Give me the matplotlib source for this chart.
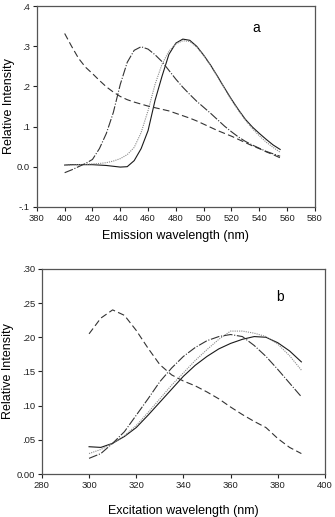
import matplotlib
matplotlib.use("Agg")
import matplotlib.pyplot as plt
from matplotlib.ticker import FixedLocator, FixedFormatter

plt.rcParams['font.family'] = ['Liberation Sans', 'DejaVu Sans']

# ---- Panel a: emission spectra ----
em_x = [400, 405, 410, 415, 420, 425, 430, 435, 440, 445, 450, 455, 460, 465, 470,
        475, 480, 485, 490, 495, 500, 505, 510, 515, 520, 525, 530, 535, 540, 545, 550, 555]
em_solid = [0.004, 0.005, 0.005, 0.005, 0.005, 0.004, 0.003, 0.001, -0.001, 0.0, 0.015,
            0.045, 0.09, 0.165, 0.225, 0.28, 0.308, 0.318, 0.315, 0.300, 0.278, 0.253,
            0.225, 0.196, 0.168, 0.142, 0.118, 0.099, 0.083, 0.068, 0.054, 0.043]
em_dotted = [0.003, 0.004, 0.005, 0.006, 0.007, 0.008, 0.010, 0.014, 0.020, 0.030, 0.048,
             0.085, 0.14, 0.205, 0.255, 0.288, 0.306, 0.314, 0.312, 0.298, 0.277, 0.252,
             0.224, 0.195, 0.166, 0.140, 0.116, 0.095, 0.077, 0.061, 0.048, 0.036]
em_dashdot = [-0.015, -0.008, 0.0, 0.008, 0.018, 0.045, 0.083, 0.135, 0.205, 0.26, 0.29,
              0.299, 0.293, 0.279, 0.262, 0.24, 0.218, 0.198, 0.18, 0.163, 0.148, 0.133,
              0.117, 0.101, 0.087, 0.074, 0.063, 0.054, 0.046, 0.038, 0.032, 0.026]
em_dashed = [0.332, 0.30, 0.27, 0.248, 0.232, 0.215, 0.199, 0.186, 0.175, 0.167, 0.161,
             0.156, 0.151, 0.147, 0.143, 0.139, 0.133, 0.127, 0.121, 0.114, 0.106, 0.098,
             0.09, 0.083, 0.076, 0.068, 0.06, 0.052, 0.045, 0.037, 0.03, 0.022]

a_xticks = [380, 400, 420, 440, 460, 480, 500, 520, 540, 560, 580]
a_yticks = [-0.1, 0.0, 0.1, 0.2, 0.3, 0.4]
a_ylabels = ['-.1', '0.0', '.1', '.2', '.3', '.4']

# ---- Panel b: excitation spectra ----
ex_x = [300, 305, 310, 315, 320, 325, 330, 335, 340, 345, 350, 355, 360, 365, 370,
        375, 380, 385, 390]
ex_solid = [0.040, 0.039, 0.045, 0.055, 0.068, 0.086, 0.105, 0.124, 0.143, 0.159, 0.172,
            0.183, 0.191, 0.197, 0.201, 0.200, 0.192, 0.180, 0.164]
ex_dotted = [0.030, 0.036, 0.045, 0.056, 0.071, 0.090, 0.110, 0.130, 0.148, 0.166, 0.182,
             0.197, 0.209, 0.209, 0.206, 0.201, 0.190, 0.173, 0.152]
ex_dashdot = [0.023, 0.030, 0.045, 0.062, 0.086, 0.110, 0.135, 0.155, 0.172, 0.185, 0.195,
              0.201, 0.204, 0.201, 0.188, 0.172, 0.153, 0.133, 0.113]
ex_dashed = [0.205, 0.228, 0.240, 0.232, 0.210, 0.184, 0.160, 0.145, 0.136, 0.129, 0.120,
             0.110, 0.098, 0.087, 0.077, 0.068, 0.052, 0.039, 0.030]

b_xticks = [280, 300, 320, 340, 360, 380, 400]
b_yticks = [0.0, 0.05, 0.10, 0.15, 0.20, 0.25, 0.30]
b_ylabels = ['0.00', '.05', '.10', '.15', '.20', '.25', '.30']

fig = plt.figure(figsize=(3.35, 5.17), dpi=100)
axa = fig.add_axes([0.110, 0.600, 0.830, 0.388])
axb = fig.add_axes([0.125, 0.083, 0.845, 0.397])

lw = 0.8
styles = dict(
    solid=dict(color='#1a1a1a', lw=lw, ls='-'),
    dotted=dict(color='#8a8a8a', lw=lw, ls=(0, (1, 1))),
    dashdot=dict(color='#333333', lw=lw, ls=(0, (8, 1.5, 1, 1.5))),
    dashed=dict(color='#333333', lw=lw, ls=(0, (6, 3))),
)

axa.plot(em_x, em_solid, **styles['solid'])
axa.plot(em_x, em_dotted, **styles['dotted'])
axa.plot(em_x, em_dashdot, **styles['dashdot'])
axa.plot(em_x, em_dashed, **styles['dashed'])

axb.plot(ex_x, ex_solid, **styles['solid'])
axb.plot(ex_x, ex_dotted, **styles['dotted'])
axb.plot(ex_x, ex_dashdot, **styles['dashdot'])
axb.plot(ex_x, ex_dashed, **styles['dashed'])

for ax, xt, yt, yl, xlabel, xpad, ylx in [
        (axa, a_xticks, a_yticks, a_ylabels, 'Emission wavelength (nm)', 5, -0.099),
        (axb, b_xticks, b_yticks, b_ylabels, 'Excitation wavelength (nm)', 11, -0.120)]:
    ax.set_xlim(xt[0], xt[-1])
    ax.set_ylim(yt[0], yt[-1])
    ax.xaxis.set_major_locator(FixedLocator(xt))
    ax.yaxis.set_major_locator(FixedLocator(yt))
    ax.yaxis.set_major_formatter(FixedFormatter(yl))
    ax.tick_params(direction='out', length=3, width=0.8, labelsize=6.8,
                   colors='#222222', pad=2)
    for s in ax.spines.values():
        s.set_color('#555555')
        s.set_linewidth(0.9)
    ax.set_xlabel(xlabel, fontsize=9, labelpad=xpad)
    ax.set_ylabel('Relative Intensity', fontsize=9, va='center')
    ax.yaxis.set_label_coords(ylx, 0.5)

axa.text(538, 0.345, 'a', fontsize=10, ha='center', va='center')
axb.text(381, 0.259, 'b', fontsize=10, ha='center', va='center')

fig.savefig('out.png', dpi=100)
